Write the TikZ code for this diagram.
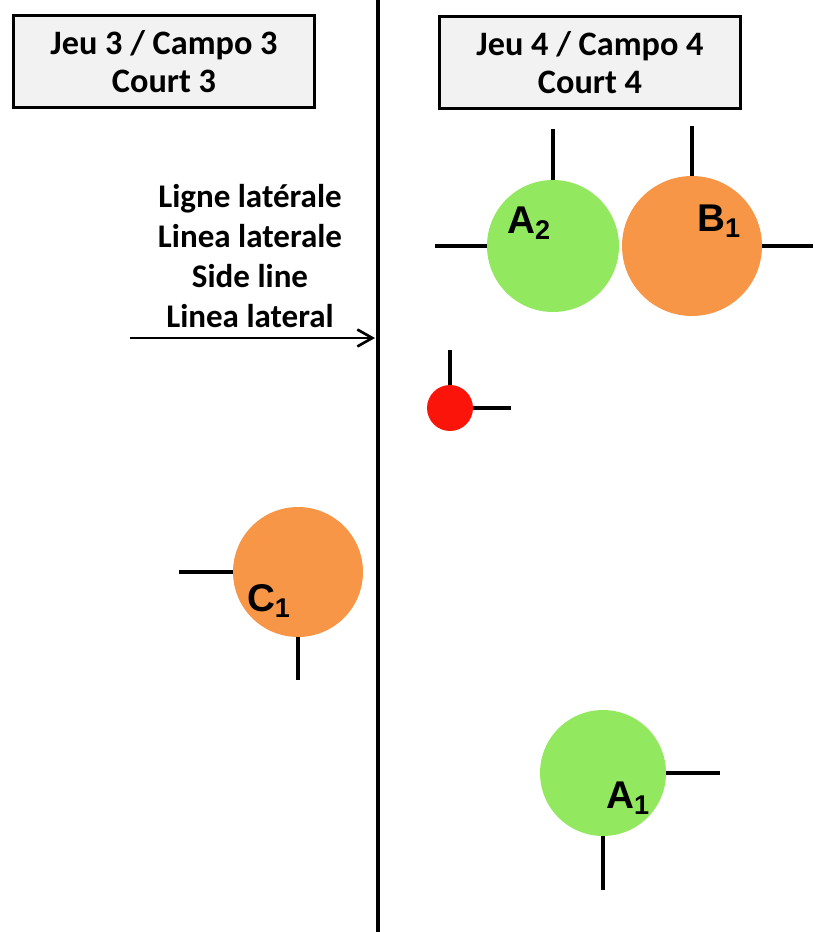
\documentclass[tikz,border=0pt]{standalone}
\usepackage{fontspec}
\newfontfamily\boxfont{Carlito}
\newfontfamily\playerfont{Liberation Sans}
\usetikzlibrary{arrows.meta}
\definecolor{playergreen}{RGB}{146,232,94}
\definecolor{playerorange}{RGB}{247,150,70}
\definecolor{ballred}{RGB}{250,20,10}
\definecolor{boxgray}{RGB}{242,242,242}

\begin{document}
\begin{tikzpicture}[x=0.02cm,y=-0.02cm,
    courtbox/.style={draw=black, line width=2pt, fill=boxgray, minimum width=6.02cm,
      minimum height=1.84cm, align=center, inner sep=0pt,
      font=\boxfont\bfseries\fontsize{19.5}{21.6}\selectfont},
    player/.style={circle, inner sep=0pt, draw=none},
    plab/.style={font=\playerfont\bfseries\fontsize{22}{22}\selectfont, inner sep=0pt},
    tick/.style={line width=2pt}]
  \useasboundingbox (0,0) rectangle (814,932);

  % Court headers
  \node[courtbox] (court3) at (164,61.5) {Jeu 3 / Campo 3\\Court 3};
  \node[courtbox] (court4) at (590,62.5) {Jeu 4 / Campo 4\\Court 4};

  % Side line between the courts
  \coordinate (sidetop) at (378,0);
  \coordinate (sidebot) at (378,932);
  \draw[line width=2.2pt] (sidetop) -- (sidebot);

  \node[align=center, font=\boxfont\bfseries\fontsize{18.8}{22.7}\selectfont] (sidetxt) at (250,256)
    {Ligne latérale\\Linea laterale\\Side line\\Linea lateral};
  \coordinate (arrstart) at (130,338);
  \coordinate (arrend) at (375,338);
  \draw[line width=1.5pt, -{Straight Barb[length=3mm,width=3.4mm]}] (arrstart) -- (arrend);

  % Players, court 4
  \node[player, fill=playergreen, minimum size=2.64cm] (a2) at (553,246) {};
  \node[plab] (a2lab) at (529,223) {A\textsubscript{2}};
  \draw[tick] (a2.north) -- ++(0,-51);
  \draw[tick] (a2.west) -- ++(-52,0);

  \node[player, fill=playerorange, minimum size=2.8cm] (b1) at (692,246) {};
  \node[plab] (b1lab) at (719,221) {B\textsubscript{1}};
  \draw[tick] (b1.north) -- ++(0,-50);
  \draw[tick] (b1.east) -- ++(51,0);

  % Ball
  \node[player, fill=ballred, minimum size=0.92cm] (ball) at (450,408) {};
  \draw[tick] (ball.north) -- ++(0,-35);
  \draw[tick] (ball.east) -- ++(38,0);

  \node[player, fill=playergreen, minimum size=2.52cm] (a1) at (603,773) {};
  \node[plab] (a1lab) at (628,798) {A\textsubscript{1}};
  \draw[tick] (a1.east) -- ++(54,0);
  \draw[tick] (a1.south) -- ++(0,54);

  % Player, court 3
  \node[player, fill=playerorange, minimum size=2.6cm] (c1) at (298,572) {};
  \node[plab] (c1lab) at (269,601) {C\textsubscript{1}};
  \draw[tick] (c1.west) -- ++(-54,0);
  \draw[tick] (c1.south) -- ++(0,43);
\end{tikzpicture}
\end{document}
